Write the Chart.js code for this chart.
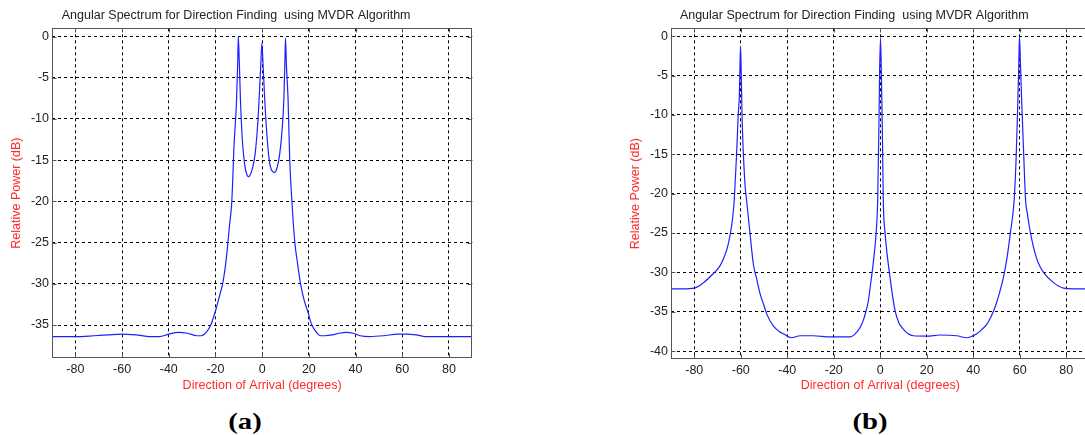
<!DOCTYPE html>
<html>
<head>
<meta charset="utf-8">
<script src="https://cdn.jsdelivr.net/npm/chart.js@4.4.1/dist/chart.umd.min.js"></script>
<style>
  html, body { margin: 0; padding: 0; background: #fff; overflow: hidden; width: 1085px; height: 435px; }
  canvas { position: absolute; top: 0; }
  #chartA { left: 0; }
  #chartB { left: 619px; }
  .tag { position: absolute; top: 409px; width: 100px; text-align: center; line-height: 26px;
         font: bold 23px "Liberation Serif", "Times New Roman", serif; color: #000;
         transform: scaleX(1.25); }
</style>
</head>
<body>
<canvas id="chartA" width="521" height="400"></canvas>
<canvas id="chartB" width="519" height="400"></canvas>
<div class="tag" style="left:195px">(a)</div>
<div class="tag" style="left:820px">(b)</div>
<script>
// ── Data ────────────────────────────────────────────────────────────────────
const xTicks = [-80, -60, -40, -20, 0, 20, 40, 60, 80];
const yTicksA = [0, -5, -10, -15, -20, -25, -30, -35];
const yTicksB = [0, -5, -10, -15, -20, -25, -30, -35, -40];

// (a) sources at -10, 0, 10 degrees
const anglesA = [-90, -80, -72, -66, -60, -54, -48, -44, -40, -36, -32, -28, -26, -24, -22, -20, -18, -17, -16, -15,
  -14, -13, -12, -11, -10.5, -10.2, -9.8, -9.3, -8.5, -7.5, -6.5, -5.8, -5, -4, -3, -2, -1.3, -0.6, -0.1, 0.4,
  1.1, 2, 3, 4, 5.3, 6.5, 7.5, 8.5, 9.3, 9.7, 10, 10.4, 11.1, 11.8, 12.7, 14, 15, 16.5, 18, 19.7,
  21, 23, 25, 27, 30, 33, 36, 39, 42, 46, 52, 58, 62, 66, 70, 80, 90];
const powerA = [-36.4, -36.4, -36.3, -36.2, -36.1, -36.2, -36.4, -36.4, -36.1, -35.9, -36.0, -36.3, -36.3, -35.9, -35.0, -33.3, -31.2, -30.1, -28.4, -26.0,
  -23.0, -20.0, -13.0, -8.0, -3.5, 0, -3.0, -7.6, -12.5, -15.5, -16.8, -17.0, -16.7, -15.8, -14.2, -11.0, -7.6, -3.5, -0.8, -3.5,
  -7.6, -11.8, -14.9, -16.2, -16.5, -15.8, -14.3, -11.5, -7.6, -3.5, -0.2, -3.5, -7.6, -14.9, -19.8, -25.0, -27.2, -30.1, -32.0, -33.5,
  -34.8, -35.8, -36.3, -36.3, -36.2, -36.0, -35.9, -36.0, -36.3, -36.4, -36.3, -36.1, -36.1, -36.2, -36.4, -36.4, -36.4];

// (b) sources at -60, 0, 60 degrees
const anglesB = [-90, -85, -80, -76, -72, -69, -67.5, -66, -65, -64, -63.2, -62.8, -61.8, -61.1, -60.6, -60.3, -60.1, -59.8, -59.4, -58.2, -57.5,
  -56, -54.6, -53, -51.7, -50, -48.8, -46, -43.5, -41.7, -38.1, -34.5, -28.8, -21.6, -13, -11.5, -10.1, -8.5, -7.3, -6.2, -5.1,
  -4.2, -3.2, -2.5, -1.8, -1.1, -0.6, -0.3, 0.1, 0.5, 0.9, 1.3, 2.1, 3, 4.2, 5.2, 6.4, 8, 9.9, 12, 14.2,
  20, 25.7, 32.9, 37.2, 39.5, 41.5, 43.5, 45.8, 47.7, 49.4, 51.3, 53, 54.5, 55.9, 57.6, 58.5, 59.2, 59.6, 59.9, 60.3,
  60.8, 61.7, 62.5, 63.3, 64.2, 65.3, 66.5, 68, 70.2, 74.5, 78.8, 83, 90];
const powerB = [-32.1, -32.1, -32.0, -31.3, -30.2, -29.2, -28.3, -27.1, -25.9, -24.2, -22.3, -20.8, -15.1, -10.0, -7.6, -3.4, -1.3, -4.5, -10.6, -18.7, -20.8,
  -25.1, -28.9, -31.0, -32.7, -34.2, -35.3, -36.8, -37.5, -37.8, -38.3, -38.05, -38.05, -38.2, -38.2, -38.0, -37.6, -36.9, -36.1, -35.0, -33.6,
  -31.6, -29.3, -27.4, -25.1, -20.8, -12.0, -5.0, -0.2, -5.0, -12.0, -20.8, -25.1, -27.8, -30.6, -32.8, -34.9, -36.4, -37.2, -37.8, -38.05,
  -38.1, -37.95, -38.05, -38.3, -38.1, -37.8, -37.3, -36.6, -35.6, -34.4, -32.6, -30.6, -28.2, -25.1, -20.8, -15.0, -8.0, -3.5, 0, -3.5,
  -8.0, -15.0, -20.8, -22.6, -24.3, -26.0, -27.5, -28.8, -30.0, -31.3, -32.0, -32.1, -32.1];

const TITLE = 'Angular Spectrum for Direction Finding  using MVDR Algorithm';
const FONT = '"Liberation Sans", Arial, sans-serif';
const FS = 12.5;

// box round the plot plus MATLAB-style inward ticks
const framePlugin = {
  id: 'frame',
  afterDraw(chart) {
    const { ctx, chartArea: a, scales } = chart;
    const l = Math.round(a.left) + 0.5, r = Math.round(a.right) - 0.5;
    const t = Math.round(a.top) + 0.5, b = Math.round(a.bottom) - 0.5;
    ctx.save();
    ctx.strokeStyle = '#555';
    ctx.lineWidth = 1;
    ctx.strokeRect(l, t, r - l, b - t);
    ctx.beginPath();
    scales.x.ticks.forEach(function(tk) {
      const px = Math.round(scales.x.getPixelForValue(tk.value)) + 0.5;
      ctx.moveTo(px, b); ctx.lineTo(px, b - 4);
      ctx.moveTo(px, t); ctx.lineTo(px, t + 4);
    });
    scales.y.ticks.forEach(function(tk) {
      const py = Math.round(scales.y.getPixelForValue(tk.value)) + 0.5;
      ctx.moveTo(l, py); ctx.lineTo(l + 4, py);
      ctx.moveTo(r, py); ctx.lineTo(r - 4, py);
    });
    ctx.stroke();
    ctx.restore();
  }
};

function makeChart(id, angles, power, yMin, yTicks, xHeight, rightPad) {
  return new Chart(document.getElementById(id), {
    type: 'line',
    data: {
      datasets: [{
        data: angles.map(function(a, i) { return { x: a, y: power[i] }; }),
        borderColor: '#1f1fff',
        borderWidth: 1.2,
        pointRadius: 0,
        fill: false,
        cubicInterpolationMode: 'monotone'
      }]
    },
    options: {
      responsive: false,
      animation: false,
      devicePixelRatio: 1,
      layout: { padding: { left: 0, right: rightPad, top: 0, bottom: 0 } },
      plugins: {
        legend: { display: false },
        tooltip: { enabled: false },
        title: {
          display: true,
          text: TITLE,
          color: '#222',
          font: { family: FONT, size: FS, weight: 'normal' },
          padding: { top: 7.7, bottom: 5.6 }
        }
      },
      scales: {
        x: {
          type: 'linear',
          min: -90, max: 90,
          afterBuildTicks: function(s) { s.ticks = xTicks.map(function(v) { return { value: v }; }); },
          afterFit: function(s) { s.height = xHeight; },
          ticks: { color: '#222', font: { family: FONT, size: FS }, padding: 4.5, maxRotation: 0 },
          grid: { color: '#000', lineWidth: 1, drawTicks: false },
          border: { display: false, dash: [3, 3] },
          title: {
            display: true, text: 'Direction of Arrival (degrees)', color: '#ff2a2a',
            font: { family: FONT, size: FS }, padding: { top: 0, bottom: 6.5 }
          }
        },
        y: {
          min: yMin, max: 1,
          afterBuildTicks: function(s) { s.ticks = yTicks.map(function(v) { return { value: v }; }); },
          afterFit: function(s) { s.width = 52; },
          ticks: { color: '#222', font: { family: FONT, size: FS }, padding: 3 },
          grid: { color: '#000', lineWidth: 1, drawTicks: false },
          border: { display: false, dash: [3, 3] },
          title: {
            display: true, text: 'Relative Power (dB)', color: '#ff2a2a',
            font: { family: FONT, size: FS }, padding: { top: 9.5, bottom: 0 }
          }
        }
      }
    },
    plugins: [framePlugin]
  });
}

makeChart('chartA', anglesA, powerA, -39, yTicksA, 42, 48.7);
makeChart('chartB', anglesB, powerB, -41, yTicksB, 41, 48.5);
</script>
</body>
</html>
